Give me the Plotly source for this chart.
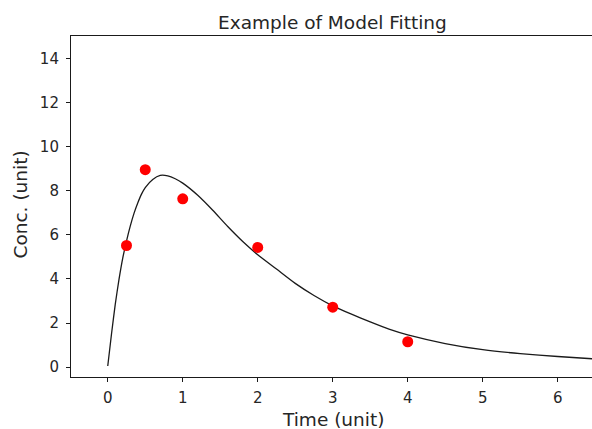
import plotly.graph_objects as go

# Observed data points
obs_time = [0.25, 0.5, 1, 2, 3, 4]
obs_conc = [5.52, 8.96, 7.64, 5.43, 2.72, 1.15]

# Fitted model curve
fit_time = [0, 0.05, 0.1, 0.15, 0.2, 0.25, 0.3, 0.35, 0.4, 0.45, 0.5, 0.6, 0.7, 0.8,
            0.9, 1.0, 1.2, 1.4, 1.6, 1.8, 2.0, 2.25, 2.5, 2.75, 3.0, 3.25, 3.5, 3.75,
            4.0, 4.5, 5.0, 5.5, 6.0, 6.5]
fit_conc = [0.05, 1.5, 2.85, 3.98, 4.95, 5.72, 6.4, 6.98, 7.45, 7.85, 8.15, 8.52, 8.7, 8.68,
            8.55, 8.35, 7.8, 7.12, 6.38, 5.7, 5.1, 4.45, 3.8, 3.25, 2.78, 2.4, 2.05, 1.72,
            1.46, 1.07, 0.79, 0.61, 0.48, 0.37]

x_ticks = [0, 1, 2, 3, 4, 5, 6]
y_ticks = [0, 2, 4, 6, 8, 10, 12, 14]

FONT = "DejaVu Sans"
TXT = "#262626"

fig = go.Figure()
fig.add_trace(go.Scatter(
    x=fit_time, y=fit_conc, mode="lines",
    line=dict(color="#1a1a1a", width=1.3, shape="spline", smoothing=0.6),
    showlegend=False, hoverinfo="skip"))
fig.add_trace(go.Scatter(
    x=obs_time, y=obs_conc, mode="markers",
    marker=dict(color="red", size=11, line=dict(width=0)),
    showlegend=False))

fig.update_layout(
    width=592, height=429,
    margin=dict(l=71, r=0, t=36, b=52, autoexpand=False),
    paper_bgcolor="white", plot_bgcolor="white",
    font=dict(family=FONT, color=TXT, size=14),
)
fig.update_xaxes(
    range=[-0.49, 6.457], tickvals=x_ticks, ticktext=[str(v) for v in x_ticks],
    showgrid=False, zeroline=False, showline=True, linecolor="#1a1a1a", linewidth=1.1,
    mirror=True, ticks="outside", ticklen=4, tickwidth=1, tickcolor="#1a1a1a",
    tickfont=dict(size=15), ticklabelstandoff=3, automargin=False,
)
fig.update_yaxes(
    range=[-0.45, 15.03], tickvals=y_ticks, ticktext=[str(v) for v in y_ticks],
    showgrid=False, zeroline=False, showline=True, linecolor="#1a1a1a", linewidth=1.1,
    mirror=False, ticks="outside", ticklen=4, tickwidth=1, tickcolor="#1a1a1a",
    tickfont=dict(size=15), ticklabelstandoff=4, automargin=False,
)

fig.add_annotation(text="Example of Model Fitting", xref="paper", yref="paper",
                   x=0.502, y=1.041, xanchor="center", yanchor="middle", showarrow=False,
                   font=dict(size=18.5, family=FONT, color=TXT))
fig.add_annotation(text="Time (unit)", xref="paper", yref="paper",
                   x=0.502, y=-0.125, xanchor="center", yanchor="middle", showarrow=False,
                   font=dict(size=18.5, family=FONT, color=TXT))
fig.add_annotation(text="Conc. (unit)", xref="paper", yref="paper", textangle=-90,
                   x=-0.0965, y=0.505, xanchor="center", yanchor="middle", showarrow=False,
                   font=dict(size=18.5, family=FONT, color=TXT))

# remove the browser's default page margin so the figure fills the window exactly
fig.write_html("out.html",
               config={"displayModeBar": False},
               post_script="document.body.style.margin='0';document.body.style.overflow='hidden';")
